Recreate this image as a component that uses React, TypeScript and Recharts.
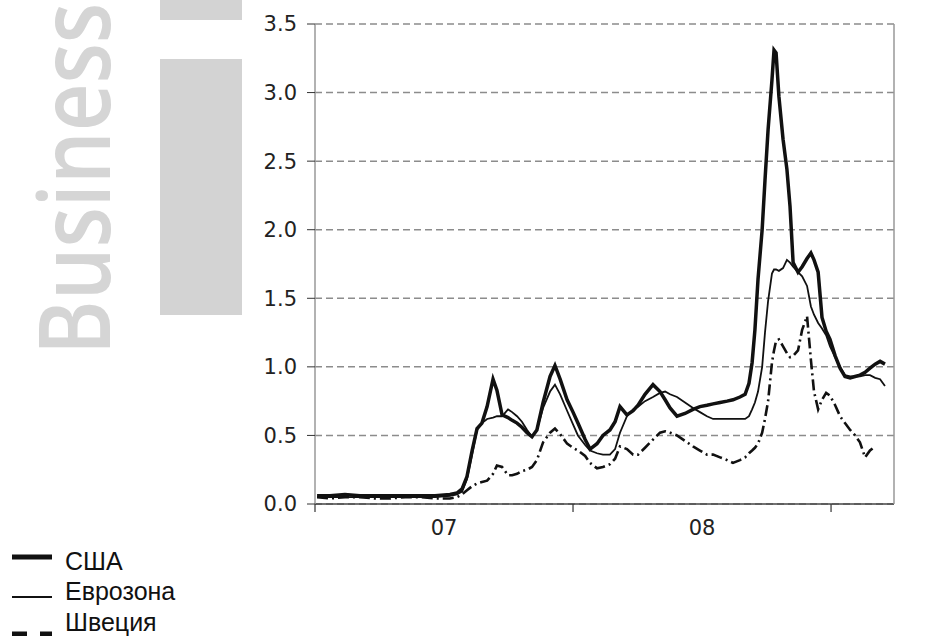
import React from 'react';
import { LineChart, Line, XAxis, YAxis, CartesianGrid } from 'recharts';

// decimal years (tick marks at 2007, 2008, 2009)
const dates = [
  2007.008, 2007.058, 2007.116, 2007.174, 2007.233, 2007.291, 2007.349, 2007.407, 2007.465, 2007.523,
  2007.55, 2007.57, 2007.589, 2007.609, 2007.628, 2007.647, 2007.667, 2007.69, 2007.705, 2007.725,
  2007.748, 2007.764, 2007.783, 2007.802, 2007.822, 2007.841, 2007.86, 2007.884, 2007.911, 2007.93,
  2007.95, 2007.977, 2008.0, 2008.019, 2008.047, 2008.066, 2008.093, 2008.116, 2008.143, 2008.163,
  2008.182, 2008.209, 2008.233, 2008.252, 2008.279, 2008.31, 2008.337, 2008.357, 2008.376, 2008.403,
  2008.434, 2008.465, 2008.492, 2008.519, 2008.543, 2008.57, 2008.597, 2008.62, 2008.647, 2008.667,
  2008.682, 2008.694, 2008.705, 2008.717, 2008.733, 2008.744, 2008.756, 2008.771, 2008.779, 2008.787,
  2008.798, 2008.814, 2008.829, 2008.841, 2008.853, 2008.872, 2008.888, 2008.907, 2008.922, 2008.934,
  2008.95, 2008.965, 2008.981, 2008.996, 2009.016, 2009.035, 2009.054, 2009.074, 2009.093, 2009.112,
  2009.132, 2009.151, 2009.171, 2009.19, 2009.209,
];

const usa = [
  0.06, 0.06, 0.07, 0.06, 0.06, 0.06, 0.06, 0.06, 0.06, 0.07,
  0.08, 0.11, 0.2, 0.39, 0.55, 0.59, 0.71, 0.91, 0.83, 0.65,
  0.63, 0.61, 0.59, 0.56, 0.52, 0.49, 0.54, 0.74, 0.93, 1.01,
  0.91, 0.76, 0.67, 0.59, 0.47, 0.4, 0.44, 0.5, 0.54, 0.6,
  0.71, 0.65, 0.68, 0.72, 0.8, 0.87, 0.82, 0.76, 0.7, 0.64,
  0.66, 0.69, 0.71, 0.72, 0.73, 0.74, 0.75, 0.76, 0.78, 0.8,
  0.88, 1.03, 1.27, 1.64, 2.0, 2.36, 2.73, 3.09, 3.31, 3.29,
  2.97, 2.66, 2.44, 2.17, 1.76, 1.69, 1.73, 1.79, 1.83, 1.78,
  1.69, 1.36, 1.26, 1.2, 1.08, 0.99, 0.93, 0.92, 0.93, 0.94,
  0.96, 0.99, 1.02, 1.04, 1.02,
];

const euro = [
  0.05, 0.05, 0.05, 0.05, 0.05, 0.05, 0.05, 0.05, 0.05, 0.06,
  0.07, 0.09, 0.18, 0.36, 0.54, 0.59, 0.62, 0.63, 0.64, 0.64,
  0.69, 0.67, 0.64, 0.6, 0.54, 0.49, 0.54, 0.7, 0.82, 0.87,
  0.8, 0.68, 0.58, 0.5, 0.43, 0.39, 0.37, 0.36, 0.36, 0.4,
  0.52, 0.64, 0.69, 0.71, 0.75, 0.78, 0.81, 0.82, 0.8, 0.78,
  0.74, 0.7, 0.67, 0.64, 0.62, 0.62, 0.62, 0.62, 0.62, 0.62,
  0.64, 0.69, 0.74, 0.82, 1.0, 1.25, 1.48, 1.68, 1.71, 1.71,
  1.7, 1.72, 1.78, 1.76, 1.73, 1.69, 1.66, 1.59, 1.44, 1.38,
  1.32, 1.28, 1.23, 1.15, 1.07, 1.0, 0.94, 0.93, 0.93, 0.93,
  0.94, 0.94, 0.92, 0.91, 0.86,
];

const sweden = [
  0.05, 0.04, 0.05, 0.05, 0.04, 0.04, 0.05, 0.05, 0.04, 0.04,
  0.05, 0.07, 0.1, 0.13, 0.15, 0.16, 0.17, 0.22, 0.28, 0.27,
  0.21, 0.21, 0.22, 0.24, 0.25, 0.27, 0.32, 0.45, 0.52, 0.55,
  0.51, 0.44, 0.41, 0.39, 0.35, 0.3, 0.26, 0.27, 0.29, 0.33,
  0.42, 0.4, 0.36, 0.36, 0.41, 0.47, 0.52, 0.53, 0.52, 0.5,
  0.46, 0.42, 0.39, 0.36, 0.36, 0.34, 0.32, 0.3, 0.32, 0.34,
  0.37, 0.39, 0.41, 0.44, 0.52, 0.62, 0.75, 1.03, 1.12, 1.19,
  1.2, 1.15, 1.1, 1.07, 1.08, 1.12, 1.27, 1.37, 1.05, 0.82,
  0.69, 0.76, 0.81, 0.79, 0.72, 0.64, 0.59, 0.54, 0.5, 0.45,
  0.34, 0.39, 0.42, null, null,
];

const yTicks = [0, 0.5, 1, 1.5, 2, 2.5, 3, 3.5];
const xTicks = [2007, 2007.5, 2008, 2008.5, 2009];

const legendItems = [
  { name: 'США', width: 5, dash: undefined },
  { name: 'Еврозона', width: 2, dash: undefined },
  { name: 'Швеция', width: 5, dash: '15 13' },
];

const rows = dates.map((t, i) => ({ t, usa: usa[i], euro: euro[i], sweden: sweden[i] }));

const tickFont = { fontSize: 21, fill: '#222', fontFamily: 'DejaVu Sans' };

// integer years get a tick mark, half years carry the "07"/"08" label
function YearTick({ x, y, payload }: any) {
  const v = payload.value;
  if (Number.isInteger(v)) {
    return <line x1={x} y1={y} x2={x} y2={y + 8} stroke="#333" strokeWidth={1.2} />;
  }
  return (
    <text x={x} y={y + 31} textAnchor="middle" {...tickFont}>
      {String(Math.floor(v)).slice(2)}
    </text>
  );
}

function Legend() {
  const rowsY = [ [557, 570], [597, 600], [634, 631] ];
  return (
    <svg width={240} height={636} style={{ position: 'absolute', left: 0, top: 0 }}>
      {legendItems.map((item, i) => (
        <g key={item.name}>
          <line
            x1={12} x2={52} y1={rowsY[i][0]} y2={rowsY[i][0]}
            stroke="#111" strokeWidth={item.width} strokeDasharray={item.dash}
          />
          <text x={65} y={rowsY[i][1]} fontSize={25} fontFamily="Liberation Sans" fill="#111">
            {item.name}
          </text>
        </g>
      ))}
    </svg>
  );
}

export default function App() {
  return (
    <div style={{ position: 'absolute', left: 0, top: 0, width: 950, height: 636, overflow: 'hidden', background: '#fff' }}>
      {/* watermark */}
      <svg width={242} height={400} style={{ position: 'absolute', left: 0, top: 0 }}>
        <rect x={160} y={0} width={82} height={20} fill="#d3d3d3" />
        <rect x={160} y={59} width={82} height={256} fill="#d3d3d3" />
        <text
          transform="translate(110,355) rotate(-90) scale(0.83,1)"
          fontSize={100} fontFamily="Open Sans" fontWeight={600} fill="#d5d5d5"
        >
          Business
        </text>
      </svg>
      <Legend />
      <div style={{ position: 'absolute', left: 242, top: 5, width: 708, height: 631, background: '#fff' }}>
        <LineChart width={708} height={631} data={rows} margin={{ top: 19, right: 0, bottom: 0, left: 0 }}>
          <CartesianGrid horizontal vertical={false} stroke="#8c8c8c" strokeWidth={1.5} strokeDasharray="7 4" />
          <XAxis
            dataKey="t" type="number" domain={[2007, 2009.244]} ticks={xTicks} interval={0}
            height={132} tickSize={0} tickMargin={0} tickLine={false} tick={<YearTick />}
            axisLine={{ stroke: '#444', strokeWidth: 1.5 }} allowDataOverflow
          />
          <YAxis
            domain={[0, 3.5]} ticks={yTicks} width={73} tickSize={8} tickMargin={10}
            tickFormatter={(v: number) => v.toFixed(1)} tick={tickFont}
            axisLine={{ stroke: '#999', strokeWidth: 1.5 }} tickLine={{ stroke: '#333' }}
          />
          <YAxis
            yAxisId="right" orientation="right" domain={[0, 3.5]} ticks={yTicks} width={56}
            tickSize={8} tickMargin={8} tickFormatter={(v: number) => v.toFixed(1)} tick={tickFont}
            axisLine={{ stroke: '#999', strokeWidth: 1.5 }} tickLine={{ stroke: '#333' }}
          />
          <Line dataKey="sweden" stroke="#111" strokeWidth={2.6} strokeDasharray="11 4 2 4" dot={false} isAnimationActive={false} />
          <Line dataKey="euro" stroke="#111" strokeWidth={1.8} dot={false} isAnimationActive={false} />
          <Line dataKey="usa" stroke="#111" strokeWidth={3.5} dot={false} isAnimationActive={false} />
        </LineChart>
      </div>
    </div>
  );
}
